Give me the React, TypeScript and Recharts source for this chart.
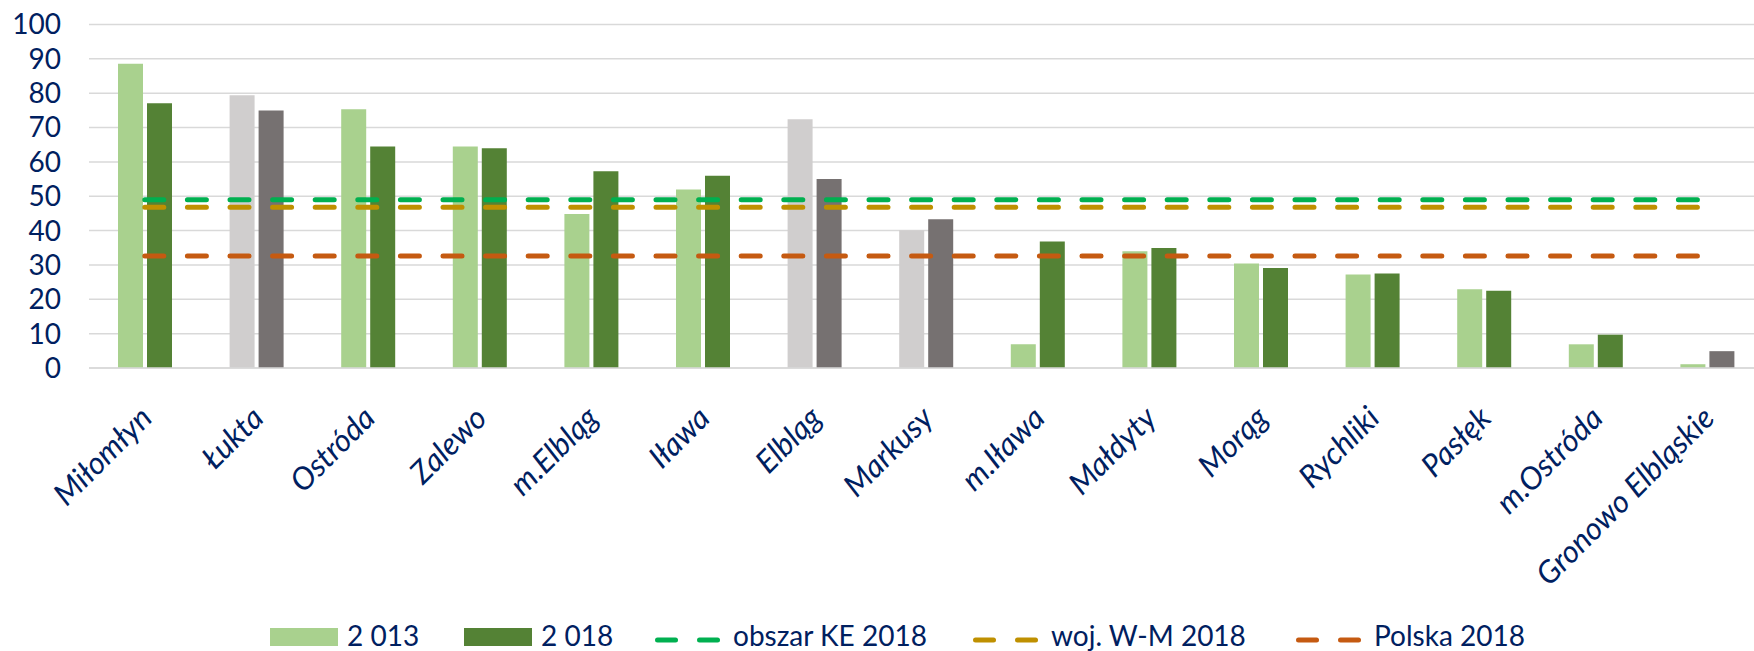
import React from 'react';
import { ComposedChart, Bar, Line, XAxis, YAxis, CartesianGrid, Cell, Legend } from 'recharts';

const categories = [
  'Miłomłyn',
  'Łukta',
  'Ostróda',
  'Zalewo',
  'm.Elbląg',
  'Iława',
  'Elbląg',
  'Markusy',
  'm.Iława',
  'Małdyty',
  'Morąg',
  'Rychliki',
  'Pasłęk',
  'm.Ostróda',
  'Gronowo Elbląskie',
];
const values2013 = [88.6, 79.4, 75.3, 64.5, 44.8, 52.0, 72.4, 40.1, 6.9, 34.0, 30.4, 27.2, 22.9, 6.9, 1.1];
const values2018 = [77.1, 75.0, 64.5, 64.0, 57.3, 56.0, 55.0, 43.3, 36.8, 34.9, 29.1, 27.5, 22.5, 9.7, 4.9];
const grey2013 = ['Łukta', 'Elbląg', 'Markusy'];
const grey2018 = ['Łukta', 'Elbląg', 'Markusy', 'Gronowo Elbląskie'];
const keArea2018 = 49.0;
const wojWM2018 = 46.8;
const polska2018 = 32.6;
const yTicks = [0, 10, 20, 30, 40, 50, 60, 70, 80, 90, 100];

const NAVY = '#002060';
const FONT = 'Lato, "Noto Sans", sans-serif';
const C = {
  light: '#A9D18E',
  dark: '#548235',
  lightGrey: '#D0CECE',
  darkGrey: '#767171',
  ke: '#00B050',
  woj: '#BF9000',
  pl: '#C55A11',
  grid: '#D9D9D9',
};

const data = categories.map((name, i) => ({
  name,
  v2013: values2013[i],
  v2018: values2018[i],
  ke: keArea2018,
  woj: wojWM2018,
  pl: polska2018,
}));

const XTick = ({ x, y, payload }: { x?: number; y?: number; payload?: { value: string } }) => (
  <g transform={`translate(${(x ?? 0) + 9},${(y ?? 0) + 52})`}>
    <text
      transform="rotate(-45)"
      textAnchor="end"
      fill={NAVY}
      fontSize={31}
      fontStyle="italic"
      fontFamily={FONT}
    >
      {payload?.value}
    </text>
  </g>
);

const legendItems = [
  { label: '2 013', kind: 'rect', color: C.light, left: 270 },
  { label: '2 018', kind: 'rect', color: C.dark, left: 464 },
  { label: 'obszar KE 2018', kind: 'line', color: C.ke, left: 655 },
  { label: 'woj. W-M 2018', kind: 'line', color: C.woj, left: 973 },
  { label: 'Polska 2018', kind: 'line', color: C.pl, left: 1296 },
];

const LegendContent = () => (
  <svg width={1754} height={40} style={{ position: 'absolute', left: 0, top: 0, overflow: 'visible' }}>
    {legendItems.map((it) => (
      <g key={`lg-${it.label}`}>
        {it.kind === 'rect' ? (
          <rect x={it.left} y={18} width={68} height={18} fill={it.color} />
        ) : (
          <>
            <line x1={it.left + 2.5} x2={it.left + 20.5} y1={30} y2={30} stroke={it.color} strokeWidth={5} strokeLinecap="round" />
            <line x1={it.left + 44.5} x2={it.left + 62.5} y1={30} y2={30} stroke={it.color} strokeWidth={5} strokeLinecap="round" />
          </>
        )}
        <text
          x={it.kind === 'rect' ? it.left + 77 : it.left + 78}
          y={36}
          fill={NAVY}
          fontSize={28}
          fontFamily={FONT}
        >
          {it.label}
        </text>
      </g>
    ))}
  </svg>
);

export default function App() {
  return (
    <div
      style={{
        position: 'absolute',
        left: 0,
        top: 0,
        width: 1754,
        height: 651,
        overflow: 'hidden',
        background: '#fff',
      }}
    >
      <ComposedChart
        width={1763}
        height={651}
        data={data}
        margin={{ top: 24.5, right: 0, left: 0, bottom: 0 }}
      >
        <CartesianGrid vertical={false} stroke={C.grid} strokeWidth={1.5} />
        <XAxis
          dataKey="name"
          height={283}
          interval={0}
          tickLine={false}
          tickSize={0}
          tickMargin={0}
          axisLine={{ stroke: C.grid, strokeWidth: 1.5 }}
          tick={<XTick />}
        />
        <YAxis
          domain={[0, 100]}
          ticks={yTicks}
          interval={0}
          width={89}
          axisLine={false}
          tickLine={false}
          tickSize={0}
          tickMargin={28}
          tick={{ fill: NAVY, fontSize: 28, fontFamily: FONT }}
        />
        <Legend
          content={<LegendContent />}
          wrapperStyle={{ position: 'absolute', left: 0, top: 610, width: 1754, height: 0 }}
        />
        <Bar dataKey="v2013" name="2 013" barSize={25} isAnimationActive={false}>
          {data.map((d) => (
            <Cell key={`c13-${d.name}`} fill={grey2013.includes(d.name) ? C.lightGrey : C.light} />
          ))}
        </Bar>
        <Bar dataKey="v2018" name="2 018" barSize={25} isAnimationActive={false}>
          {data.map((d) => (
            <Cell key={`c18-${d.name}`} fill={grey2018.includes(d.name) ? C.darkGrey : C.dark} />
          ))}
        </Bar>
        <Line
          dataKey="ke"
          name="obszar KE 2018"
          stroke={C.ke}
          strokeWidth={5}
          strokeDasharray="19 23.6"
          strokeLinecap="round"
          dot={false}
          activeDot={false}
          isAnimationActive={false}
        />
        <Line
          dataKey="woj"
          name="woj. W-M 2018"
          stroke={C.woj}
          strokeWidth={5}
          strokeDasharray="19 23.6"
          strokeLinecap="round"
          dot={false}
          activeDot={false}
          isAnimationActive={false}
        />
        <Line
          dataKey="pl"
          name="Polska 2018"
          stroke={C.pl}
          strokeWidth={5}
          strokeDasharray="19 23.6"
          strokeLinecap="round"
          dot={false}
          activeDot={false}
          isAnimationActive={false}
        />
      </ComposedChart>
    </div>
  );
}
